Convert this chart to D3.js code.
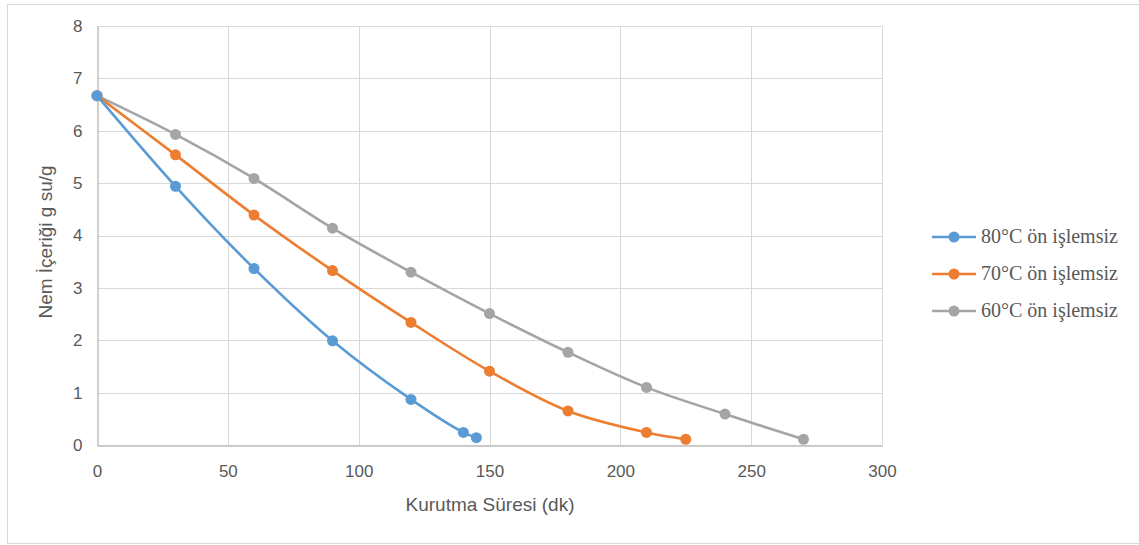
<!DOCTYPE html>
<html><head><meta charset="utf-8">
<script src="https://cdn.jsdelivr.net/npm/d3@7"></script>
<style>body{margin:0;background:#fff}svg{display:block}</style>
</head><body>
<svg id="c" width="1139" height="545"></svg>
<script>
const seriesNames = ["80°C ön işlemsiz", "70°C ön işlemsiz", "60°C ön işlemsiz"];
const seriesColors = ["#5B9BD5", "#ED7D31", "#A5A5A5"];
const time80 = [0, 30, 60, 90, 120, 140, 145];
const moist80 = [6.67, 4.94, 3.37, 1.99, 0.87, 0.24, 0.14];
const time70 = [0, 30, 60, 90, 120, 150, 180, 210, 225];
const moist70 = [6.67, 5.54, 4.39, 3.33, 2.34, 1.41, 0.65, 0.24, 0.11];
const time60 = [0, 30, 60, 90, 120, 150, 180, 210, 240, 270];
const moist60 = [6.67, 5.93, 5.09, 4.14, 3.30, 2.51, 1.77, 1.10, 0.59, 0.11];
const xTicks = [0, 50, 100, 150, 200, 250, 300];
const yTicks = [0, 1, 2, 3, 4, 5, 6, 7, 8];
const xTitle = "Kurutma Süresi (dk)";
const yTitle = "Nem İçeriği g su/g";

const series = [
  {name: seriesNames[2], color: seriesColors[2], t: time60, m: moist60},
  {name: seriesNames[1], color: seriesColors[1], t: time70, m: moist70},
  {name: seriesNames[0], color: seriesColors[0], t: time80, m: moist80}
];

const svg = d3.select("#c");
svg.append("rect").attr("x", 7.5).attr("y", 4.5).attr("width", 1140).attr("height", 539)
  .attr("fill", "#fff").attr("stroke", "#D9D9D9").attr("stroke-width", 1);

const x = d3.scaleLinear().domain([0, 300]).range([97, 882]);
const y = d3.scaleLinear().domain([0, 8]).range([445, 26]);

const font = "'Liberation Sans', Arial, sans-serif";

// grid
const g = svg.append("g");
g.selectAll(".gy").data(yTicks).join("line")
  .attr("x1", x(0)).attr("x2", x(300)).attr("y1", d => Math.round(y(d)) + 0.5).attr("y2", d => Math.round(y(d)) + 0.5)
  .attr("stroke", "#D9D9D9").attr("stroke-width", 1);
g.selectAll(".gx").data(xTicks.slice(1)).join("line")
  .attr("y1", y(0)).attr("y2", y(8)).attr("x1", d => Math.round(x(d)) + 0.5).attr("x2", d => Math.round(x(d)) + 0.5)
  .attr("stroke", "#D9D9D9").attr("stroke-width", 1);

// axes via d3
const xAxis = svg.append("g").attr("transform", `translate(0,${Math.round(y(0)) + 0.5})`)
  .call(d3.axisBottom(x).tickValues(xTicks).tickSize(0).tickPadding(19));
xAxis.select(".domain").attr("stroke", "#BFBFBF").attr("stroke-width", 1.5);
xAxis.selectAll("text").attr("fill", "#595959").style("font-family", font).style("font-size", "17px");

const yAxis = svg.append("g").attr("transform", `translate(${Math.round(x(0)) + 0.5},0)`)
  .call(d3.axisLeft(y).tickValues(yTicks).tickSize(0).tickPadding(15));
yAxis.select(".domain").attr("stroke", "#BFBFBF").attr("stroke-width", 1.5);
yAxis.selectAll("text").attr("fill", "#595959").style("font-family", font).style("font-size", "17px");

// lines
const line = d3.line().x(d => x(d[0])).y(d => y(d[1])).curve(d3.curveCatmullRom.alpha(0.5));
series.forEach(s => {
  const pts = s.t.map((t, i) => [t, s.m[i]]);
  svg.append("path").datum(pts).attr("d", line).attr("fill", "none")
    .attr("stroke", s.color).attr("stroke-width", 2.6).attr("stroke-linecap", "round");
  svg.append("g").selectAll("circle").data(pts).join("circle")
    .attr("cx", d => x(d[0])).attr("cy", d => y(d[1])).attr("r", 5.5).attr("fill", s.color);
});

// titles
svg.append("text").attr("x", 490).attr("y", 511).attr("text-anchor", "middle")
  .attr("fill", "#595959").style("font-family", font).style("font-size", "19px").text(xTitle);
svg.append("text").attr("transform", "translate(52,242) rotate(-90)").attr("text-anchor", "middle")
  .attr("fill", "#595959").style("font-family", font).style("font-size", "19px").text(yTitle);

// legend
const legY = [237, 274, 311];
const leg = svg.append("g");
seriesNames.forEach((n, i) => {
  const gg = leg.append("g").attr("transform", `translate(0,${legY[i]})`);
  gg.append("line").attr("x1", 932).attr("x2", 976).attr("y1", 0).attr("y2", 0)
    .attr("stroke", seriesColors[i]).attr("stroke-width", 2.6);
  gg.append("circle").attr("cx", 954).attr("cy", 0).attr("r", 5.5).attr("fill", seriesColors[i]);
  gg.append("text").attr("x", 981).attr("y", 6).attr("fill", "#595959")
    .style("font-family", "'Liberation Serif', 'Times New Roman', serif").style("font-size", "20px").text(n);
});
</script>
</body></html>
